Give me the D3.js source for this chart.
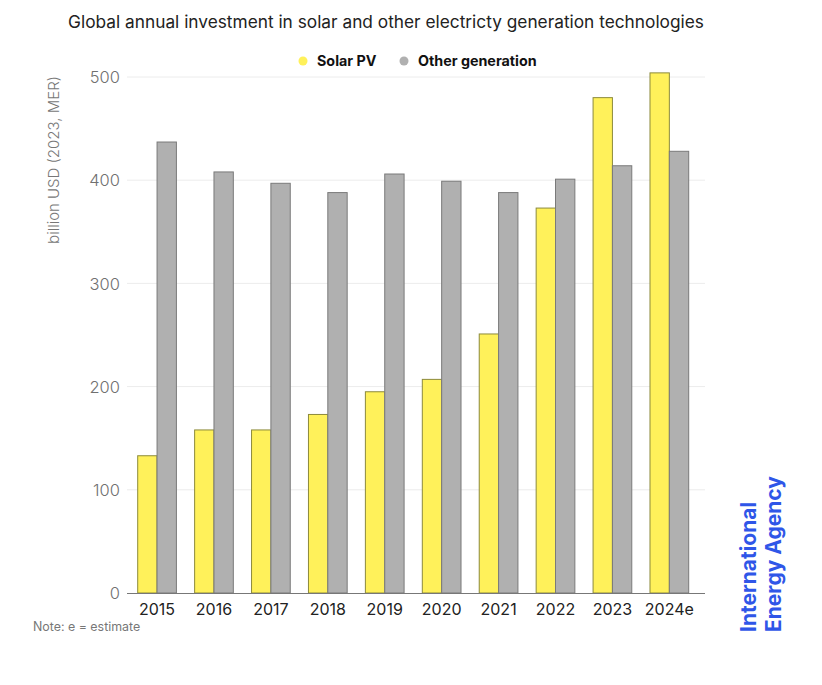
<!DOCTYPE html>
<html><head><meta charset="utf-8">
<script src="https://cdn.jsdelivr.net/npm/d3@7"></script>
<style>body{margin:0;background:#fff;font-family:Inter,"Noto Sans",sans-serif;}</style>
</head><body><svg id="c" width="822" height="685"></svg>
<script>
const years = ["2015","2016","2017","2018","2019","2020","2021","2022","2023","2024e"];
const solarPV = [133,158,158,173,195,207,251,373,480,504];
const otherGen = [437,408,397,388,406,399,388,401,414,428];
const yTicks = [0,100,200,300,400,500];
const seriesNames = ["Solar PV","Other generation"];
const seriesColors = ["#FFF15A","#B0B0B0"];
const seriesStrokes = ["#8c8a3c","#7a7a7a"];

const svg = d3.select("#c");
const y = d3.scaleLinear().domain([0,500]).range([593,77]);
const x = d3.scaleBand().domain(years).range([137.7,688.7]).paddingInner(0.32).paddingOuter(0);
const xs = d3.scaleBand().domain([0,1]).range([0,x.bandwidth()]);

// gridlines
svg.append("g").selectAll("line").data(yTicks.filter(d=>d>0)).join("line")
  .attr("x1",127).attr("x2",705).attr("y1",d=>y(d)).attr("y2",d=>y(d))
  .attr("stroke","#ececec").attr("stroke-width",1);

// y axis labels
const ya = svg.append("g").attr("transform","translate(120,0)")
  .call(d3.axisLeft(y).tickValues(yTicks).tickSize(0).tickPadding(0));
ya.select(".domain").remove();
ya.selectAll("text").attr("font-family","Inter,sans-serif").attr("font-size",16.5).attr("font-weight",300).attr("fill","#707070").attr("dy","0.35em");

// bars
const series = [solarPV, otherGen];
series.forEach((vals,si)=>{
  svg.append("g").selectAll("rect").data(vals).join("rect")
    .attr("x",(d,i)=>x(years[i])+xs(si)).attr("width",xs.bandwidth())
    .attr("y",d=>y(d)).attr("height",d=>y(0)-y(d))
    .attr("fill",seriesColors[si]).attr("stroke",seriesStrokes[si]).attr("stroke-width",1);
});

// x axis
const xa = svg.append("g").attr("transform","translate(0,593)")
  .call(d3.axisBottom(x).tickSize(0).tickPadding(11));
xa.select(".domain").remove();
xa.selectAll("text").attr("font-family","Inter,sans-serif").attr("font-size",16).attr("fill","#222");
svg.append("line").attr("x1",127).attr("x2",705).attr("y1",593.5).attr("y2",593.5).attr("stroke","#777").attr("stroke-width",1);

// title
svg.append("text").attr("x",386).attr("y",28).attr("text-anchor","middle")
  .attr("font-family","Inter,sans-serif").attr("font-size",17.3).attr("fill","#222")
  .text("Global annual investment in solar and other electricty generation technologies");

// legend
const leg = [{x:303,t:seriesNames[0],c:seriesColors[0]},{x:404,t:seriesNames[1],c:seriesColors[1]}];
leg.forEach(l=>{
  svg.append("circle").attr("cx",l.x).attr("cy",61).attr("r",4.5).attr("fill",l.c);
  svg.append("text").attr("x",l.x+14).attr("y",66).attr("font-family","Inter,sans-serif")
    .attr("font-weight",700).attr("font-size",14.3).attr("fill","#111").text(l.t);
});

// y label
svg.append("text").attr("transform","translate(59,160) rotate(-90)").attr("text-anchor","middle")
  .attr("font-family","Inter,sans-serif").attr("font-size",15).attr("font-weight",300).attr("fill","#777")
  .text("billion USD (2023, MER)");

// note
svg.append("text").attr("x",33).attr("y",631).attr("font-family","Inter,sans-serif")
  .attr("font-size",12.4).attr("fill","#777").text("Note: e = estimate");

// logo
svg.append("text").attr("transform","translate(756,632) rotate(-90)")
  .attr("font-family","Inter,sans-serif").attr("font-weight",700).attr("font-size",21).attr("fill","#2f56e8")
  .text("International");
svg.append("text").attr("transform","translate(781,632) rotate(-90)")
  .attr("font-family","Inter,sans-serif").attr("font-weight",700).attr("font-size",21).attr("fill","#2f56e8")
  .text("Energy Agency");
</script></body></html>
